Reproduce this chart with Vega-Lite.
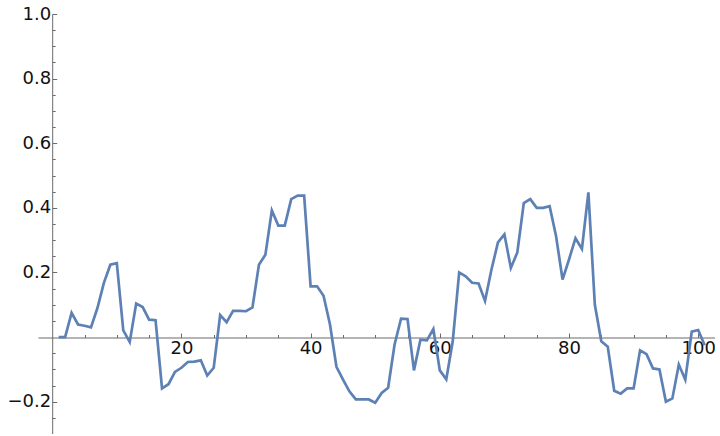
{
  "$schema": "https://vega.github.io/schema/vega-lite/v6.json",
  "width": 677,
  "height": 420,
  "autosize": {"type": "none"},
  "padding": {"left": 38, "top": 14, "right": 0, "bottom": 0},
  "background": "white",
  "config": {"view": {"stroke": null}},
  "data": {"values": [
    {"x":1,"y":0},{"x":2,"y":0},{"x":3,"y":0.075},{"x":4,"y":0.039},{"x":5,"y":0.035},
    {"x":6,"y":0.030},{"x":7,"y":0.09},{"x":8,"y":0.168},{"x":9,"y":0.224},{"x":10,"y":0.229},
    {"x":11,"y":0.021},{"x":12,"y":-0.015},{"x":13,"y":0.104},{"x":14,"y":0.093},{"x":15,"y":0.054},
    {"x":16,"y":0.052},{"x":17,"y":-0.159},{"x":18,"y":-0.146},{"x":19,"y":-0.108},{"x":20,"y":-0.095},
    {"x":21,"y":-0.077},{"x":22,"y":-0.076},{"x":23,"y":-0.072},{"x":24,"y":-0.119},{"x":25,"y":-0.095},
    {"x":26,"y":0.068},{"x":27,"y":0.046},{"x":28,"y":0.081},{"x":29,"y":0.081},{"x":30,"y":0.08},
    {"x":31,"y":0.092},{"x":32,"y":0.224},{"x":33,"y":0.255},{"x":34,"y":0.392},{"x":35,"y":0.345},
    {"x":36,"y":0.345},{"x":37,"y":0.427},{"x":38,"y":0.438},{"x":39,"y":0.438},{"x":40,"y":0.157},
    {"x":41,"y":0.157},{"x":42,"y":0.128},{"x":43,"y":0.039},{"x":44,"y":-0.092},{"x":45,"y":-0.131},
    {"x":46,"y":-0.168},{"x":47,"y":-0.193},{"x":48,"y":-0.193},{"x":49,"y":-0.193},{"x":50,"y":-0.203},
    {"x":51,"y":-0.173},{"x":52,"y":-0.157},{"x":53,"y":-0.023},{"x":54,"y":0.057},{"x":55,"y":0.056},
    {"x":56,"y":-0.103},{"x":57,"y":-0.008},{"x":58,"y":-0.01},{"x":59,"y":0.025},{"x":60,"y":-0.103},
    {"x":61,"y":-0.131},{"x":62,"y":-0.013},{"x":63,"y":0.2},{"x":64,"y":0.188},{"x":65,"y":0.168},
    {"x":66,"y":0.166},{"x":67,"y":0.112},{"x":68,"y":0.209},{"x":69,"y":0.293},{"x":70,"y":0.318},
    {"x":71,"y":0.214},{"x":72,"y":0.262},{"x":73,"y":0.415},{"x":74,"y":0.427},{"x":75,"y":0.4},
    {"x":76,"y":0.4},{"x":77,"y":0.405},{"x":78,"y":0.312},{"x":79,"y":0.178},{"x":80,"y":0.24},
    {"x":81,"y":0.306},{"x":82,"y":0.273},{"x":83,"y":0.448},{"x":84,"y":0.1},{"x":85,"y":-0.013},
    {"x":86,"y":-0.03},{"x":87,"y":-0.166},{"x":88,"y":-0.175},{"x":89,"y":-0.159},{"x":90,"y":-0.159},
    {"x":91,"y":-0.041},{"x":92,"y":-0.053},{"x":93,"y":-0.097},{"x":94,"y":-0.1},{"x":95,"y":-0.2},
    {"x":96,"y":-0.19},{"x":97,"y":-0.085},{"x":98,"y":-0.132},{"x":99,"y":0.017},{"x":100,"y":0.022},
    {"x":101,"y":-0.025}
  ]},
  "mark": {"type": "line", "color": "#5E81B5", "strokeWidth": 2.7, "strokeJoin": "miter", "clip": false},
  "encoding": {
    "x": {
      "field": "x", "type": "quantitative",
      "scale": {"domain": [-2.2, 102.6], "nice": false, "zero": false},
      "axis": {
        "title": null,
        "offset": -96.5,
        "grid": false,
        "values": [5,10,15,20,25,30,35,40,45,50,55,60,65,70,75,80,85,90,95,100],
        "labelExpr": "datum.value % 20 === 0 ? format(datum.value, 'd') : ''",
        "labelFont": "DejaVu Sans",
        "labelFontSize": 18,
        "labelColor": "#111",
        "labelPadding": 6,
        "labelFlush": false,
        "labelOverlap": false,
        "labelBound": false,
        "domainColor": "#6b6b6b",
        "domainWidth": 1,
        "tickColor": "#6b6b6b",
        "tickWidth": 1,
        "tickSize": {"condition": {"test": "datum.value % 20 === 0", "value": -4.5}, "value": -3}
      }
    },
    "y": {
      "field": "y", "type": "quantitative",
      "scale": {"domain": [-0.3, 1.0], "nice": false, "zero": false},
      "axis": {
        "title": null,
        "offset": -14.2,
        "grid": false,
        "values": [-0.3,-0.25,-0.2,-0.15,-0.1,-0.05,0.05,0.1,0.15,0.2,0.25,0.3,0.35,0.4,0.45,0.5,0.55,0.6,0.65,0.7,0.75,0.8,0.85,0.9,0.95,1.0],
        "labelExpr": "abs(datum.value*5 - round(datum.value*5)) < 0.001 && datum.value != 0 ? format(datum.value, '.1f') : ''",
        "labelFont": "DejaVu Sans",
        "labelFontSize": 18,
        "labelColor": "#111",
        "labelPadding": 6,
        "labelFlush": false,
        "labelOverlap": false,
        "labelBound": false,
        "domainColor": "#6b6b6b",
        "domainWidth": 1,
        "tickColor": "#6b6b6b",
        "tickWidth": 1,
        "tickSize": {"condition": {"test": "abs(datum.value*5 - round(datum.value*5)) < 0.001", "value": -4.5}, "value": -3}
      }
    }
  }
}
